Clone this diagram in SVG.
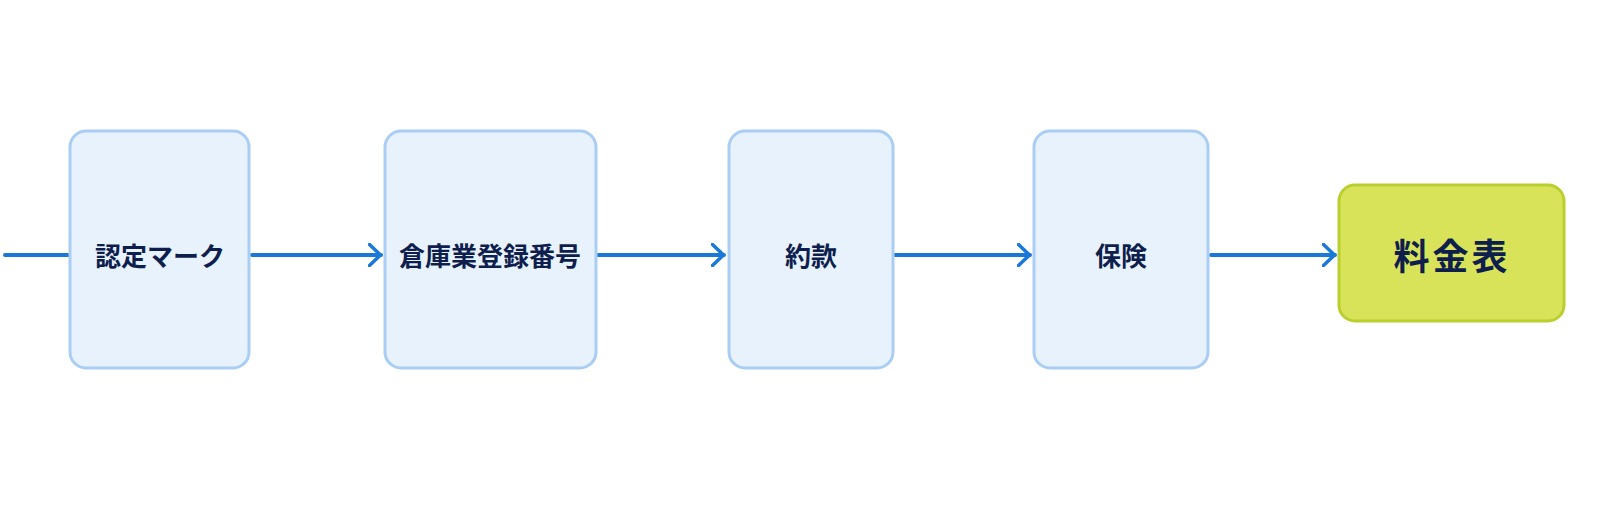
<svg xmlns="http://www.w3.org/2000/svg" width="1600" height="509" viewBox="0 0 1600 509">
<style>
.box{fill:#e8f2fc;stroke:#a9cdf3;stroke-width:3}
.fin{fill:#d8e35a;stroke:#b9cf2e;stroke-width:3}
.lbl{font-family:"Noto Sans CJK JP","Noto Sans",sans-serif;font-weight:700;font-size:26px;fill:#0f1f4d;text-anchor:middle;dominant-baseline:central}
.big{font-size:36px;letter-spacing:3px}
.conn{stroke:#1a78d8;stroke-width:4;stroke-linecap:round;fill:none}
</style>
<defs>
<marker id="arr" viewBox="0 0 14 24" refX="13" refY="12" markerWidth="14" markerHeight="24" markerUnits="userSpaceOnUse" orient="auto">
<path d="M1.5,1.5 L12.5,12 L1.5,22.5" fill="none" stroke="#1a78d8" stroke-width="3.5" stroke-linecap="round" stroke-linejoin="round"/>
</marker>
</defs>
<rect width="1600" height="509" fill="#ffffff"/>
<g id="connectors">
<line class="conn" x1="5" y1="255" x2="68" y2="255"/>
<line class="conn" x1="252" y1="255" x2="381" y2="255" marker-end="url(#arr)"/>
<line class="conn" x1="598" y1="255" x2="724" y2="255" marker-end="url(#arr)"/>
<line class="conn" x1="895" y1="255" x2="1030" y2="255" marker-end="url(#arr)"/>
<line class="conn" x1="1211" y1="255" x2="1335" y2="255" marker-end="url(#arr)"/>
</g>
<g id="node1"><rect class="box" x="70" y="131" width="179" height="237" rx="16"/><text class="lbl" x="160" y="254">認定マーク</text></g>
<g id="node2"><rect class="box" x="385" y="131" width="211" height="237" rx="16"/><text class="lbl" x="490" y="254">倉庫業登録番号</text></g>
<g id="node3"><rect class="box" x="729" y="131" width="164" height="237" rx="16"/><text class="lbl" x="811" y="254">約款</text></g>
<g id="node4"><rect class="box" x="1034" y="131" width="174" height="237" rx="16"/><text class="lbl" x="1121" y="254">保険</text></g>
<g id="node5"><rect class="fin" x="1339" y="185" width="225" height="136" rx="16"/><text class="lbl big" x="1452" y="254">料金表</text></g>
</svg>
